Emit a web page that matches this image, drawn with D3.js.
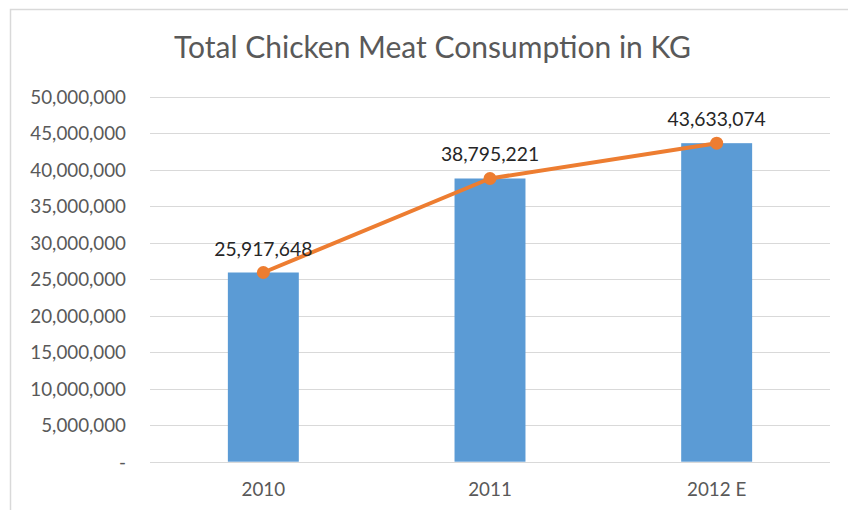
<!DOCTYPE html>
<html><head><meta charset="utf-8">
<script src="https://cdn.jsdelivr.net/npm/d3@7"></script>
<style>
html,body{margin:0;padding:0;background:#fff;}
svg{display:block;}
text{font-family:Lato,"Open Sans",sans-serif;}
</style></head>
<body>
<svg id="chart" width="848" height="510"></svg>
<script>
const categories = ["2010", "2011", "2012 E"];
const consumption = [25917648, 38795221, 43633074];
const yTicks = [0, 5000000, 10000000, 15000000, 20000000, 25000000, 30000000, 35000000, 40000000, 45000000, 50000000];
const title = "Total Chicken Meat Consumption in KG";

const svg = d3.select("#chart");
const W = 848, H = 510;

// outer border
svg.append("rect").attr("x", 10.5).attr("y", 9.5).attr("width", W + 20).attr("height", H + 20)
  .attr("fill", "#fff").attr("stroke", "#d9d9d9").attr("stroke-width", 1.5);

const x = d3.scaleBand().domain(categories).range([150, 830])
  .paddingInner(0.687).paddingOuter(0.3435);
const y = d3.scaleLinear().domain([0, 50000000]).range([461.7, 96.7]);

const fmt = d3.format(",");

// gridlines
svg.append("g").selectAll("line").data(yTicks).join("line")
  .attr("x1", 150).attr("x2", 830)
  .attr("y1", d => Math.round(y(d)) + 0.5).attr("y2", d => Math.round(y(d)) + 0.5)
  .attr("stroke", "#d9d9d9").attr("stroke-width", 1);

// y axis labels
const yAxis = d3.axisLeft(y).tickValues(yTicks).tickSize(0).tickPadding(0)
  .tickFormat(d => d === 0 ? "-" : fmt(d));
const yg = svg.append("g").attr("transform", "translate(126,0)").call(yAxis);
yg.select(".domain").remove();
yg.selectAll("text").attr("fill", "#595959").style("font-size", "18.8px")
  .style("font-family", "Lato, sans-serif").attr("dy", "0.36em");

// x axis labels
const xAxis = d3.axisBottom(x).tickSize(0).tickPadding(0);
const xg = svg.append("g").attr("transform", "translate(0,483)").call(xAxis);
xg.select(".domain").remove();
xg.selectAll("text").attr("fill", "#595959").style("font-size", "18.8px")
  .style("font-family", "Lato, sans-serif").attr("dy", "0.71em");

// bars
svg.append("g").selectAll("rect").data(consumption).join("rect")
  .attr("x", (d, i) => x(categories[i]))
  .attr("width", x.bandwidth())
  .attr("y", d => y(d))
  .attr("height", d => y(0) - y(d))
  .attr("fill", "#5b9bd5");

// line
const cx = (d, i) => x(categories[i]) + x.bandwidth() / 2;
const line = d3.line().x(cx).y(d => y(d));
svg.append("path").datum(consumption).attr("d", line)
  .attr("fill", "none").attr("stroke", "#ed7d31").attr("stroke-width", 4)
  .attr("stroke-linejoin", "round").attr("stroke-linecap", "round");
svg.append("g").selectAll("circle").data(consumption).join("circle")
  .attr("cx", cx).attr("cy", d => y(d)).attr("r", 6.5).attr("fill", "#ed7d31");

// data labels
svg.append("g").selectAll("text").data(consumption).join("text")
  .attr("x", cx).attr("y", d => y(d) - 17)
  .attr("text-anchor", "middle").attr("fill", "#262626")
  .style("font-size", "19.3px").text(d => fmt(d));

// title
svg.append("text").attr("x", 432.5).attr("y", 58).attr("text-anchor", "middle")
  .attr("fill", "#595959").style("font-size", "30px").text(title);
</script>
</body></html>
